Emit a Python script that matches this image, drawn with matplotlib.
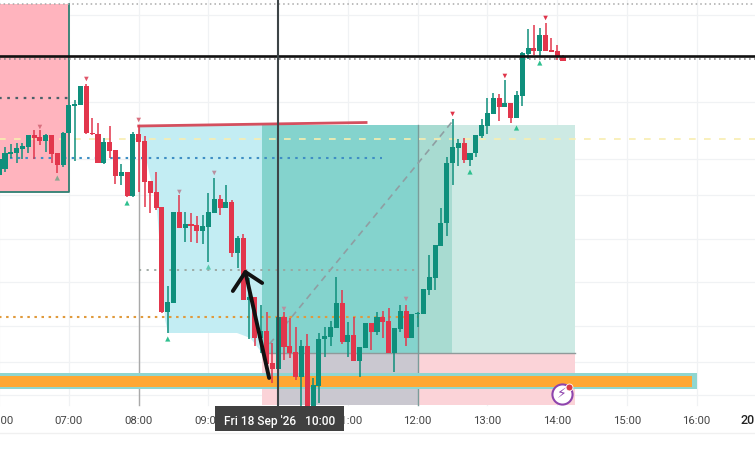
import matplotlib
matplotlib.use("Agg")
import matplotlib.pyplot as plt
from matplotlib.patches import Polygon, Rectangle

plt.rcParams['font.family'] = ['Roboto', 'DejaVu Sans']

# Candle values (5-minute bars; the y scale runs downwards, as read)
candle_index = list(range(-12, 86))
body_top = [159,153,152,148,146,135,135,137,135,135,153,133,
            105,104,86,86,133,134,142,142,150,172,172,134,
            134,141,181,192,207,302,212,212,224,224,225,226,
            212,199,199,202,202,238,238,297,297,331,331,363,
            317,317,346,352,346,346,385,339,336,327,303,303,
            335,335,347,323,323,317,317,321,328,311,311,314,
            313,289,277,245,223,163,147,143,143,153,135,125,
            113,98,98,103,103,95,53,48,48,35,35,50,51,56]
body_bot = [175,169,154,153,149,147,138,141,141,154,165,165,
            133,106,105,133,134,163,163,151,176,176,196,196,
            142,182,193,208,312,312,303,228,228,226,231,231,
            227,213,208,208,253,253,300,300,338,338,364,369,
            369,347,353,377,377,410,410,386,339,337,328,342,
            342,361,361,348,332,332,322,353,353,329,338,338,
            314,314,290,278,246,223,163,148,160,160,153,136,
            126,114,107,107,118,118,96,54,51,51,51,52,57,61]
wick_top = [155,147,144,143,143,135,130,130,134,135,153,132,
            105,100,86,84,118,123,138,126,150,164,172,132,
            125,136,181,172,207,286,212,195,212,213,216,215,
            193,178,195,185,200,236,234,278,297,305,312,343,
            315,312,318,327,340,334,378,333,327,321,277,290,
            322,317,347,323,323,312,311,308,328,305,305,314,
            312,289,255,245,208,157,119,139,138,153,135,119,
            98,93,94,80,103,91,52,29,25,28,23,38,45,55]
wick_bot = [178,172,158,163,159,153,159,145,152,163,173,167,
            133,161,105,134,135,163,164,158,184,185,197,197,
            192,207,213,210,313,333,303,228,242,242,243,244,
            262,213,215,208,257,268,300,339,346,353,373,383,
            403,360,358,380,406,412,410,403,357,346,328,344,
            357,361,377,348,350,335,338,353,372,332,346,338,
            327,314,295,290,246,236,185,166,163,166,157,138,
            134,114,121,107,123,118,106,59,55,57,51,52,60,61]
is_up = [1,1,1,1,1,1,0,0,1,0,0,1,
         1,1,1,0,0,0,1,0,0,1,0,1,
         0,0,0,0,0,1,1,0,1,0,0,1,
         1,1,0,1,0,1,0,1,0,1,0,0,
         1,0,0,0,1,0,1,1,1,1,1,0,
         1,0,1,1,0,1,0,0,1,1,0,1,
         1,1,1,1,1,1,1,1,0,1,1,1,
         1,1,0,1,0,1,1,1,0,1,0,0,0,0]

# Pivot markers
peak_index = [-5, 3, 12, 19, 25, 37, 58, 66, 75, 82]
peak_level = [127, 79, 120, 192, 173, 309, 299, 114, 76, 18]
peak_color = ['#d9707f','#e0566a','#d9707f','#b98f9f','#b98f9f','#b98f9f','#b98f9f','#e0344a','#e0344a','#e0344a']
trough_index = [-2, 10, 17, 24, 69, 77, 81]
trough_level = [178, 203, 339, 267, 172, 128, 63]
trough_color = ['#8aa58f','#2fc08f','#2fc08f','#5cc9b0','#2fc08f','#2fc08f','#2fc08f']

# Time axis
hour_ticks = [6, 7, 8, 9, 11, 12, 13, 14, 15, 16]
hour_labels = ['06:00', '07:00', '08:00', '09:00', '11:00', '12:00', '13:00', '14:00', '15:00', '16:00']
grid_hours = [6, 7, 8, 9, 10, 11, 12, 13, 14, 15, 16]
grid_levels = [15, 102, 159, 195, 239, 282, 326, 362, 395]

# Zones and levels
GREEN, RED = '#0f8f7c', '#e2364c'
CANDLE = 1 / 12
def hour(i):
    return 7 + i * CANDLE

fig = plt.figure(figsize=(7.55, 4.72), dpi=100)
ax = fig.add_axes([0, 0, 1, 1])
ax.set_xlim(6.0115, 16.836)
ax.set_ylim(472, 0)
ax.axis('off')

def rect(x0, x1, y0, y1, color, z=1.0, **kw):
    ax.add_patch(Rectangle((x0, y0), x1 - x0, y1 - y0, facecolor=color, edgecolor='none', zorder=z, **kw))

for h in grid_hours:
    ax.plot([h, h], [0, 405], color='#f0f2f4', lw=0.9, zorder=0.5)
for y in grid_levels:
    ax.plot([6.0, 16.9], [y, y], color='#f0f2f4', lw=0.9, zorder=0.5)

# pink box on the left
rect(6.0, 7.0, 4, 192, '#ffb4be', 1.0)
ax.plot([6.0, 7.0, 7.0], [192, 192, 4], color='#2f7f72', lw=1.3, zorder=1.1)

# position tool zones
rect(9.77, 14.25, 125, 353, '#cdeae4', 1.0)
rect(9.77, 14.25, 353, 405, '#fbd3d8', 1.0)
ax.add_patch(Polygon([(8, 125), (8.26, 207), (8.38, 320), (8.42, 333), (9.41, 333), (9.6, 338),
                      (9.77, 353), (9.77, 125)], closed=True, facecolor='#c3edf3', edgecolor='none', zorder=1.2))
rect(9.77, 12.0, 125, 353, '#84d3cd', 1.2)
rect(12.0, 12.49, 125, 353, '#a8dbd1', 1.2)
rect(10.0, 12.0, 353, 405, '#cac8d0', 1.2)
ax.plot([9.77, 14.25], [353, 353], color='#8f9a9a', lw=1.0, zorder=1.3)
ax.plot([12, 12], [125, 405], color='#7a9c9a', lw=1.0, zorder=1.3)
ax.plot([8, 8], [125, 405], color='#a9a9a9', lw=1.0, zorder=1.3)
ax.plot([9.77, 12.49], [353, 122], color='#8f9ea2', lw=1.2, ls=(0, (4, 3)), zorder=1.4)

# horizontal levels
ax.plot([6.0, 16.9], [139, 139], color='#f8eeb0', lw=1.2, ls=(0, (4, 5)), zorder=1.5)
ax.plot([6.15, 11.49], [158, 158], color='#3f8fc4', lw=1.5, ls=(0, (1.2, 2.5)), zorder=1.5)
ax.plot([6.0, 7.0], [98, 98], color='#4a6068', lw=1.6, ls=(0, (1.2, 2.5)), zorder=1.5)
ax.plot([8.0, 12.0], [270, 270], color='#9aa59f', lw=1.3, ls=(0, (1.2, 3)), zorder=1.5)
ax.plot([6.0, 12.0], [317, 317], color='#e09a3c', lw=1.5, ls=(0, (1.2, 2.2)), zorder=1.5)
ax.plot([6.0, 16.9], [4, 4], color='#a9a9a9', lw=1.1, ls=(0, (1, 2)), zorder=1.5)
ax.plot([6.0, 16.9], [59, 59], color='#8c8c8c', lw=1.2, ls=(0, (1, 2)), zorder=1.5)
ax.plot([8.0, 11.26], [126, 122.5], color='#d4505f', lw=2.0, zorder=1.6)

# orange band
rect(6.0, 16.0, 373, 389, '#8fd6d0', 1.7)
rect(6.0, 15.93, 376, 387, '#ffa733', 1.8)

# candles
for i, t, b, wt, wb, up in zip(candle_index, body_top, body_bot, wick_top, wick_bot, is_up):
    c = GREEN if up else RED
    ax.plot([hour(i), hour(i)], [wt, wb], color=c, lw=1.1, zorder=3, solid_capstyle='butt')
    ax.bar(hour(i), b - t, bottom=t, width=0.072, color=c, linewidth=0, zorder=3.1)

ax.scatter([hour(i) for i in peak_index], peak_level, marker='v', s=11, c=peak_color, linewidths=0, zorder=3.2)
ax.scatter([hour(i) for i in trough_index], trough_level, marker='^', s=14, c=trough_color, linewidths=0, zorder=3.2)

# crosshair
ax.plot([6.0, 16.9], [56, 56], color='#111111', lw=1.9, zorder=4)
ax.plot([10, 10], [0, 406], color='#3c4446', lw=1.5, zorder=4)

# hand-drawn arrow
ax.plot([9.87, 9.53], [378, 272], color='#111111', lw=2.8, solid_capstyle='round', zorder=5)
ax.plot([9.35, 9.53, 9.77], [291, 272, 283], color='#111111', lw=2.8, solid_capstyle='round', zorder=5)

# time axis
for h, lab in zip(hour_ticks, hour_labels):
    ax.text(h, 421, lab, ha='center', va='center', fontsize=8.2, color='#454545', zorder=2)
ax.text(16.63, 421, '20', ha='left', va='center', fontsize=9, color='#222222', zorder=2, fontweight='medium')
ax.plot([6.0, 16.9], [433, 433], color='#f0f0f0', lw=1.0, zorder=0.5)

# crosshair date label
rect(9.09, 10.94, 406, 431, '#404040', 6)
ax.text(10.015, 421, "Fri 18 Sep '26   10:00", ha='center', va='center', fontsize=8.6,
        color='white', fontweight='medium', zorder=7)

# alert icon
ax.plot([14.07], [394], marker='o', ms=14.5, mfc='white', mec='#8e44ad', mew=1.5, zorder=6)
ax.text(14.07, 394.5, '\u26a1', ha='center', va='center', fontsize=10, color='#8e44ad', zorder=7, family=['DejaVu Sans'])
ax.plot([14.17], [386.5], marker='o', ms=5, mfc='#d93a48', mec='white', mew=0.6, zorder=8)

fig.savefig('out.png', dpi=100, facecolor='white')
